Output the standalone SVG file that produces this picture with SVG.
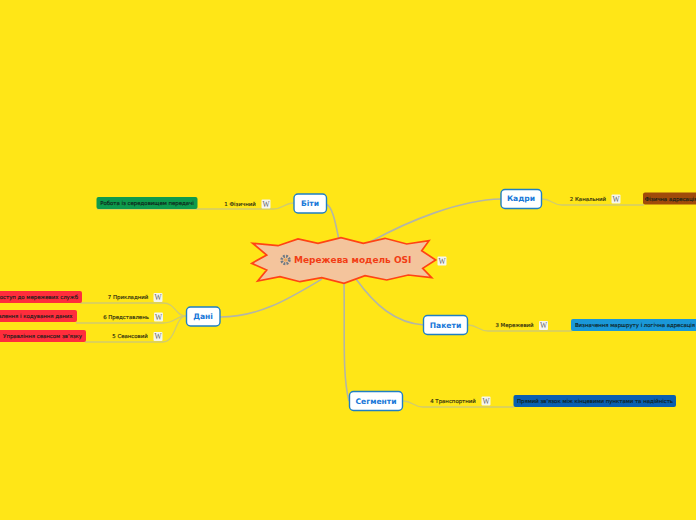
<svg xmlns="http://www.w3.org/2000/svg" xmlns:xlink="http://www.w3.org/1999/xlink" width="696" height="520" viewBox="0 0 696 520">
<style>
text{font-family:"DejaVu Sans","Liberation Sans",sans-serif}
.c{fill:none;stroke:#d2cc6e;stroke-width:1.3}
.m{fill:none;stroke:#b4b6a6;stroke-width:1.6}
.t{fill:#fff;stroke:#1f7fc4;stroke-width:1.4}
.tt{font-size:7.600px;font-weight:bold;fill:#1777d8;text-anchor:middle}
.l{font-size:5.400px;fill:#2a2a10;stroke:#2a2a10;stroke-width:.15;text-anchor:middle}
.n{font-size:5.400px;fill:#10201a;stroke:#10201a;stroke-width:.15;text-anchor:middle}
.w{font-family:"Liberation Serif",serif;font-size:7.500px;fill:#666;text-anchor:middle}
</style>
<defs>
<g id="wk"><rect x="-4.500" y="-4.500" width="9" height="9" rx="1" fill="#f6f6ee"/><text class="w" y="2.600">W</text></g>
</defs>
<rect width="696" height="520" fill="#ffe617"/>
<g id="connectors">
<path class="m" d="M326 204C332 206 335 220 339 240"/>
<path class="m" d="M370 242C410 220 460 200 501 199"/>
<path class="m" d="M356 279C375 305 395 323 424 325"/>
<path class="m" d="M344 283C345 330 342 375 349 401"/>
<path class="m" d="M322 279C290 298 260 317 220 317"/>
<path class="c" d="M294 203C285 203 282 209 274 209H97"/>
<path class="c" d="M542 199C552 199 552 205 562 205H644"/>
<path class="c" d="M468 325C478 325 478 331 488 331H572"/>
<path class="c" d="M403 401C413 401 413 407 423 407H514"/>
<path class="c" d="M186 316C175 316 176 303 163 303H80"/>
<path class="c" d="M186 316C175 316 176 323 163 323H76"/>
<path class="c" d="M186 316C175 316 176 342 163 342H85"/>
</g>
<g id="root">
<polygon points="252.7,243.3 278,245.7 298,239 318,243.3 341,237.7 363.3,243.3 385,238.3 406.7,244 429,240.7 421.7,250.7 435.7,260 422.7,268.3 431.7,277.7 408.3,275 386.7,280 365,275.700 344,283.300 321.7,277.7 300,281.7 280,276.7 257.7,281 266.7,270 251.7,263.3 266.7,255" fill="#f4c49c" stroke="#ff4414" stroke-width="1.700"/>
<circle cx="285.500" cy="260" r="3.800" fill="none" stroke="#6d7a84" stroke-width="2.800" stroke-dasharray="1.800 1.200"/>
<circle cx="285.500" cy="260" r="1.800" fill="#e8a860"/>
<text x="294" y="263" font-size="9" font-weight="bold" fill="#f23d14">Мережева модель OSI</text>
<use xlink:href="#wk" href="#wk" x="442" y="261"/>
</g>
<g id="n-bity"><rect class="t" x="294" y="194" width="32.500" height="19" rx="4"/><text class="tt" x="310" y="206">Біти</text></g>
<g id="n-kadry"><rect class="t" x="501" y="189.500" width="40.500" height="19" rx="4"/><text class="tt" x="521" y="201">Кадри</text></g>
<g id="n-pakety"><rect class="t" x="423.500" y="315.500" width="44" height="19" rx="4"/><text class="tt" x="445.500" y="328">Пакети</text></g>
<g id="n-sehmenty"><rect class="t" x="349.500" y="391.500" width="53" height="19" rx="4"/><text class="tt" x="376" y="404">Сегменти</text></g>
<g id="n-dani"><rect class="t" x="186.500" y="307" width="33.500" height="19" rx="4"/><text class="tt" x="203" y="319">Дані</text></g>
<g id="l1"><text class="l" x="240" y="206">1 Фізичний</text><use xlink:href="#wk" href="#wk" x="266" y="204"/><rect x="96.500" y="197" width="101" height="12" rx="2" fill="#0e9a4c"/><text class="n" x="147" y="205">Робота із середовищем передачі</text></g>
<g id="l2"><text class="l" x="588" y="201">2 Канальний</text><use xlink:href="#wk" href="#wk" x="616" y="199"/><rect x="643" y="192.500" width="60" height="12" rx="2" fill="#a04b0a"/><text class="n" x="671" y="200.500">Фізична адресація</text></g>
<g id="l3"><text class="l" x="514.500" y="327">3 Мережевий</text><use xlink:href="#wk" href="#wk" x="543.500" y="325.500"/><rect x="571" y="319" width="130" height="12" rx="2" fill="#1a98d8"/><text class="n" x="635" y="327">Визначення маршруту і логічна адресація</text></g>
<g id="l4"><text class="l" x="453" y="403">4 Транспортний</text><use xlink:href="#wk" href="#wk" x="486" y="401"/><rect x="513.500" y="395" width="162.500" height="12" rx="2" fill="#0a5fb0"/><text class="n" x="595" y="403">Прямий зв'язок між кінцевими пунктами та надійність</text></g>
<g id="l7"><text class="l" x="128" y="299">7 Прикладний</text><use xlink:href="#wk" href="#wk" x="158" y="297.500"/><rect x="-20" y="291" width="102" height="12" rx="2" fill="#ff2d3c"/><text class="n" x="78" y="299" style="text-anchor:end">Доступ до мережевих служб</text></g>
<g id="l6"><text class="l" x="126" y="319">6 Представлень</text><use xlink:href="#wk" href="#wk" x="158.500" y="317"/><rect x="-40" y="310" width="117" height="12" rx="2" fill="#ff2d3c"/><text class="n" x="72.500" y="318" style="text-anchor:end">Представлення і кодування даних</text></g>
<g id="l5"><text class="l" x="130" y="338">5 Сеансовий</text><use xlink:href="#wk" href="#wk" x="158" y="336.500"/><rect x="-20" y="330" width="106" height="12" rx="2" fill="#ff2d3c"/><text class="n" x="82" y="338" style="text-anchor:end">Управління сеансом зв'язку</text></g>
</svg>
